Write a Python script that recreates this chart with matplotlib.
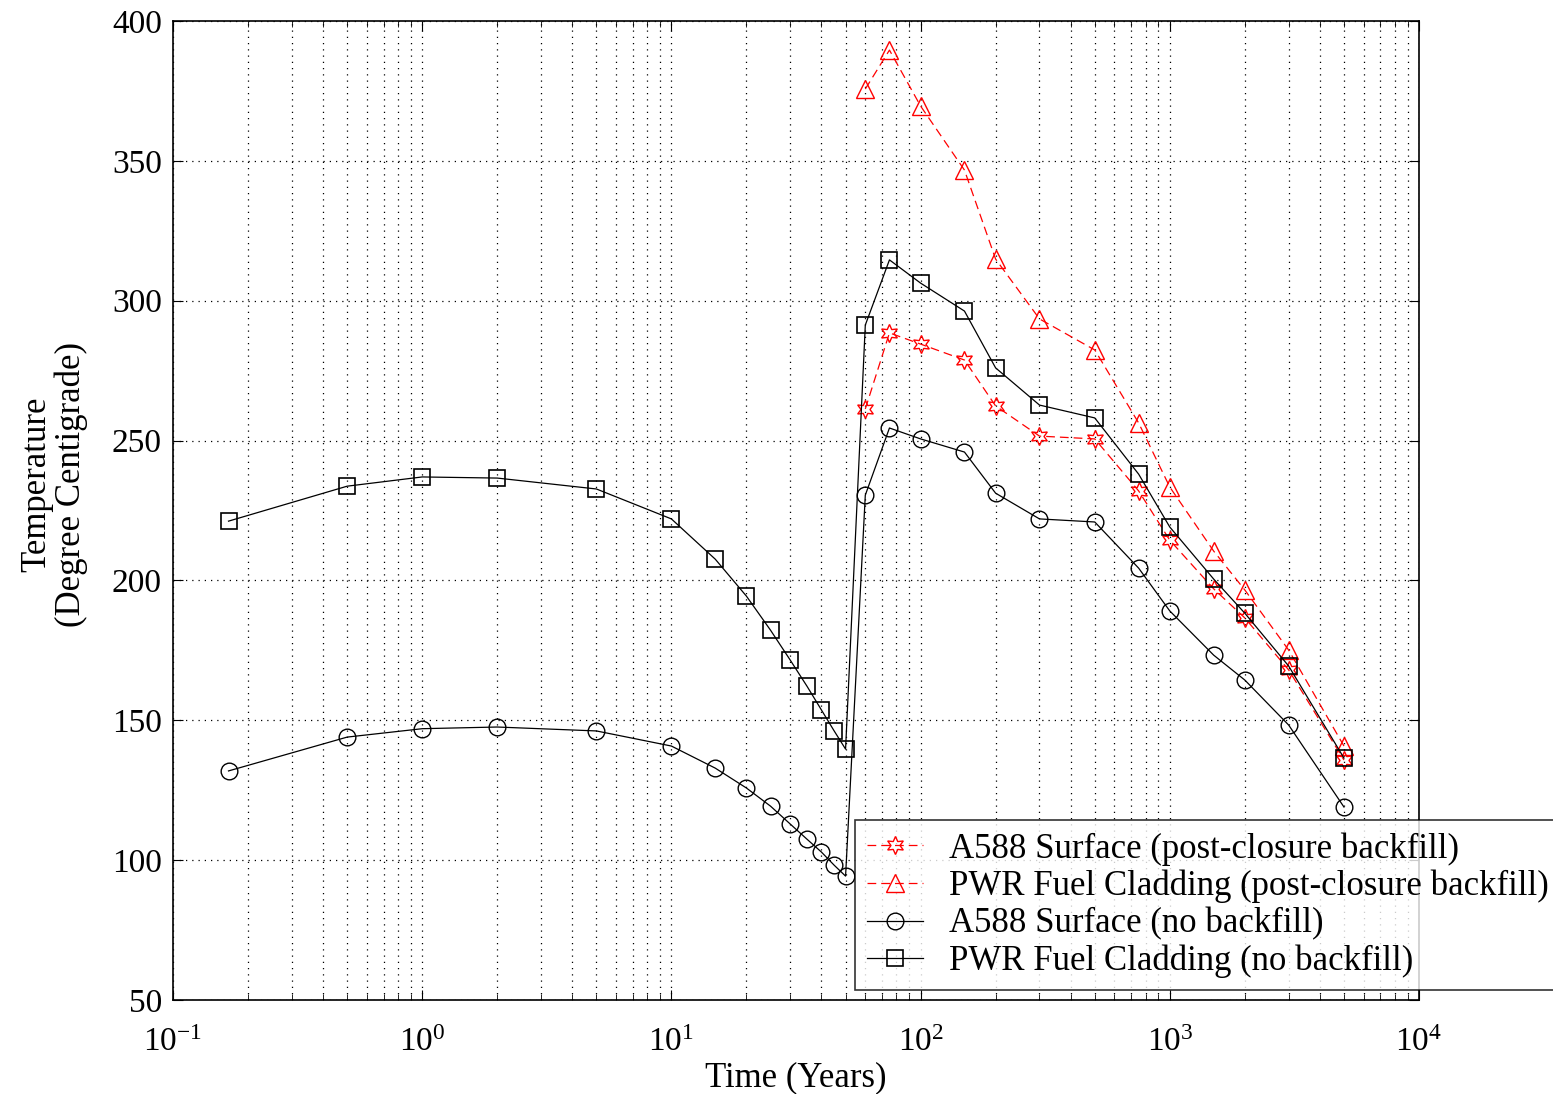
import numpy as np
import matplotlib.pyplot as plt
from matplotlib.ticker import LogLocator, NullFormatter

plt.rcParams['font.family'] = ['Liberation Serif', 'DejaVu Serif']
plt.rcParams['mathtext.fontset'] = 'stix'

# --- Données ---
t_pre = [0.167, 0.5, 1, 2, 5, 10, 15, 20, 25, 30, 35, 40, 45, 50]
t_post = [60, 75, 100, 150, 200, 300, 500, 750, 1000, 1500, 2000, 3000, 5000]

a588_nobf = [131.9, 144.0, 147.0, 147.6, 146.2, 140.8, 132.9, 125.8, 119.3, 112.9, 107.5, 102.9, 98.2, 94.3,
             230.5, 254.5, 250.6, 245.9, 231.2, 222.0, 220.9, 204.4, 189.1, 173.3, 164.4, 148.3, 119.0]
pwr_nobf = [221.2, 233.7, 237.0, 236.6, 232.7, 222.0, 207.6, 194.4, 182.2, 171.5, 162.2, 153.7, 146.2, 139.7,
            291.3, 314.6, 306.3, 296.3, 276.0, 262.7, 258.1, 238.0, 219.1, 200.5, 188.3, 169.4, 136.5]
a588_bf = [261.3, 288.5, 284.5, 278.8, 262.4, 251.6, 250.6, 232.0, 214.4, 197.0, 186.6, 168.0, 135.8]
pwr_bf = [375.7, 389.6, 369.6, 346.7, 314.9, 293.5, 282.4, 256.3, 233.4, 210.5, 196.6, 175.1, 140.8]

labels = ["A588 Surface (post-closure backfill)",
          "PWR Fuel Cladding (post-closure backfill)",
          "A588 Surface (no backfill)",
          "PWR Fuel Cladding (no backfill)"]

t_all = t_pre + t_post

fig = plt.figure(figsize=(15.53, 10.94), dpi=100)
ax = fig.add_axes([0.1114, 0.0859, 0.8023, 0.8949])

star = (6, 1, 0)
ax.plot(t_post, a588_bf, '--', color='red', lw=0.9, marker=star, ms=13,
        mfc='none', mec='red', mew=1.0, dashes=(7, 4), label=labels[0])
ax.plot(t_post, pwr_bf, '--', color='red', lw=0.9, marker='^', ms=13,
        mfc='none', mec='red', mew=1.0, dashes=(7, 4), label=labels[1])
ax.plot(t_all, a588_nobf, '-', color='black', lw=0.9, marker='o', ms=12,
        mfc='none', mec='black', mew=1.0, label=labels[2])
ax.plot(t_all, pwr_nobf, '-', color='black', lw=0.9, marker='s', ms=11,
        mfc='none', mec='black', mew=1.2, label=labels[3])

ax.set_xscale('log')
ax.set_xlim(0.1, 1e4)
ax.set_ylim(50, 400)
ax.set_yticks(np.arange(50, 401, 50))
ax.xaxis.set_major_locator(LogLocator(base=10, numticks=10))
ax.xaxis.set_minor_locator(LogLocator(base=10, subs=np.arange(2, 10), numticks=20))
ax.xaxis.set_minor_formatter(NullFormatter())

ax.grid(True, which='major', axis='both', color='black', linestyle=(0, (1, 4)), lw=0.9)
ax.grid(True, which='minor', axis='x', color='black', linestyle=(0, (1, 4)), lw=0.9)

ax.tick_params(which='both', direction='in', top=True, right=True, labelsize=24)
ax.tick_params(which='major', length=7)
ax.tick_params(which='minor', length=4)
ax.tick_params(axis='x', pad=20)
ax.tick_params(axis='y', pad=8)
for s in ax.spines.values():
    s.set_linewidth(1.2)

ax.set_xlabel("Time (Years)", fontsize=25, labelpad=2)
ax.set_ylabel("Temperature\n(Degree Centigrade)", fontsize=25, linespacing=1.05)
ax.yaxis.set_label_coords(-0.068, 0.527)

leg = ax.legend(loc='upper left', bbox_to_anchor=(0.5505, 1 - 820 / 1094), bbox_transform=fig.transFigure,
                fontsize=25, frameon=True, fancybox=False, edgecolor='black',
                handlelength=1.6, borderpad=0.35, labelspacing=0.12, handletextpad=0.75,
                borderaxespad=0)
leg.get_frame().set_linewidth(1.2)

plt.savefig("out.png", dpi=100)
